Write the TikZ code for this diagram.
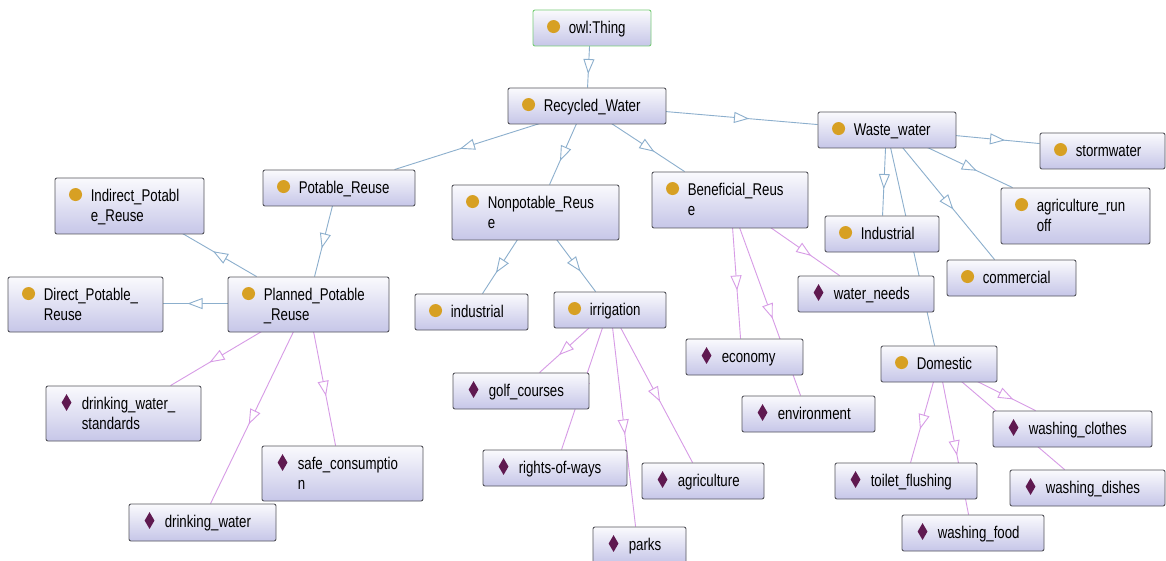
\documentclass[tikz,border=0pt]{standalone}
\usepackage{fontspec}
\setmainfont{Liberation Sans}[FakeStretch=0.78]
\usetikzlibrary{shapes.geometric,arrows.meta,decorations.markings}
\pgfdeclarelayer{bg}
\pgfsetlayers{bg,main}
\definecolor{edgeblue}{RGB}{140,175,205}
\definecolor{edgepink}{RGB}{215,155,230}
\definecolor{icongold}{RGB}{215,160,35}
\definecolor{iconplum}{RGB}{95,25,80}
\definecolor{boxtop}{RGB}{250,250,253}
\definecolor{boxbot}{RGB}{198,198,232}
\definecolor{boxline}{RGB}{85,85,92}
\definecolor{thinggreen}{RGB}{120,205,120}
\tikzset{
  box/.style={draw=boxline, line width=0.9pt, rounded corners=2pt, top color=boxtop, bottom color=boxbot, inner sep=0pt},
  clsicon/.style={circle, fill=icongold, minimum size=13pt, inner sep=0pt},
  indicon/.style={diamond, fill=iconplum, minimum width=10pt, minimum height=17pt, inner sep=0pt},
  lbl/.style={anchor=base west, inner sep=0pt, align=left, font=\fontsize{17}{20}\selectfont},
  blueedge/.style={draw=edgeblue, line width=0.9pt},
  pinkedge/.style={draw=edgepink, line width=0.9pt},
  midtri/.style={postaction={decorate, decoration={markings, mark=at position #1 with {\pgftransformxshift{7.5pt}\arrow{Triangle[length=15pt,width=11pt,fill=white]}}}}},
  midtri/.default=0.5,
}
% #1 box options, #2 name, #3-#6 x1 y1 x2 y2, #7 icon style, #8 baseline of last line, #9 text
\newcommand\obox[9][]{%
  \pgfmathsetmacro\obw{#5-#3}\pgfmathsetmacro\obh{#6-#4}%
  \node[box, minimum width=\obw pt, minimum height=\obh pt, #1] (#2) at ({(#3+#5)/2},{(#4+#6)/2}) {};
  \node[#7] (#2-i) at ([shift={(21,17)}]#2.north west) {};
  \node[lbl] (#2-t) at ([shift={(36,#8)}]#2.north west) {#9};
}
\begin{document}
\begin{tikzpicture}[x=1pt,y=-1pt]
\useasboundingbox (0,0) rectangle (1166,561);
% boxes
\obox[draw=thinggreen]{thing}{533}{10}{651}{46}{clsicon}{24}{owl:Thing}
\obox{rw}{508}{88}{666}{124}{clsicon}{24}{Recycled\_Water}
\obox{pr}{263}{170}{415}{206}{clsicon}{24}{Potable\_Reuse}
\obox{ipr}{55}{178}{204}{234}{clsicon}{44}{Indirect\_Potabl\\e\_Reuse}
\obox{dpr}{8}{277}{163}{332}{clsicon}{44}{Direct\_Potable\_\\Reuse}
\obox{ppr}{228}{277}{389}{332}{clsicon}{44}{Planned\_Potable\\\_Reuse}
\obox{npr}{452}{185}{619}{240}{clsicon}{44}{Nonpotable\_Reus\\e}
\obox{br}{652}{172}{808}{228}{clsicon}{44}{Beneficial\_Reus\\e}
\obox{ind}{415}{294}{528}{330}{clsicon}{24}{industrial}
\obox{irr}{554}{292}{666}{328}{clsicon}{24}{irrigation}
\obox{ww}{818}{112}{956}{148}{clsicon}{24}{Waste\_water}
\obox{sw}{1040}{133}{1165}{169}{clsicon}{24}{stormwater}
\obox{ar}{1001}{188}{1150}{244}{clsicon}{44}{agriculture\_run\\off}
\obox{Ind}{825}{216}{939}{252}{clsicon}{24}{Industrial}
\obox{com}{947}{260}{1076}{296}{clsicon}{24}{commercial}
\obox{wn}{798}{276}{934}{312}{indicon}{24}{water\_needs}
\obox{dom}{881}{346}{997}{382}{clsicon}{24}{Domestic}
\obox{wc}{993}{411}{1152}{447}{indicon}{24}{washing\_clothes}
\obox{tf}{835}{463}{977}{499}{indicon}{24}{toilet\_flushing}
\obox{wd}{1010}{470}{1165}{506}{indicon}{24}{washing\_dishes}
\obox{wf}{902}{515}{1044}{551}{indicon}{24}{washing\_food}
\obox{env}{742}{396}{875}{432}{indicon}{24}{environment}
\obox{eco}{686}{339}{803}{375}{indicon}{24}{economy}
\obox{gc}{453}{373}{589}{409}{indicon}{24}{golf\_courses}
\obox{row}{483}{450}{627}{486}{indicon}{24}{rights-of-ways}
\obox{agr}{642}{463}{764}{499}{indicon}{24}{agriculture}
\obox{parks}{593}{527}{686}{563}{indicon}{24}{parks}
\obox{dws}{46}{386}{201}{441}{indicon}{44}{drinking\_water\_\\standards}
\obox{sc}{262}{446}{423}{501}{indicon}{44}{safe\_consumptio\\n}
\obox{dw}{129}{504}{276}{541}{indicon}{24}{drinking\_water}
% connectors
\begin{pgfonlayer}{bg}
\fill[white] (0,0) rectangle (1166,561);
\draw[blueedge, midtri] ([shift={(57,36)}]thing.north west) -- ([shift={(80,0)}]rw.north west);
\draw[blueedge, midtri] ([shift={(32,36)}]rw.north west) -- ([shift={(132,0)}]pr.north west);
\draw[blueedge, midtri] ([shift={(69,36)}]rw.north west) -- ([shift={(98,0)}]npr.north west);
\draw[blueedge, midtri] ([shift={(104,36)}]rw.north west) -- ([shift={(33,0)}]br.north west);
\draw[blueedge, midtri] ([shift={(158,24)}]rw.north west) -- ([shift={(0,13)}]ww.north west);
\draw[blueedge, midtri] ([shift={(70,36)}]pr.north west) -- ([shift={(87,0)}]ppr.north west);
\draw[blueedge, midtri] ([shift={(29,0)}]ppr.north west) -- ([shift={(128,56)}]ipr.north west);
\draw[blueedge, midtri] ([shift={(0,27)}]ppr.north west) -- ([shift={(155,27)}]dpr.north west);
\draw[blueedge, midtri] ([shift={(66,55)}]npr.north west) -- ([shift={(68,0)}]ind.north west);
\draw[blueedge, midtri] ([shift={(105,55)}]npr.north west) -- ([shift={(42,0)}]irr.north west);
\draw[blueedge, midtri] ([shift={(138,24)}]ww.north west) -- ([shift={(0,11)}]sw.north west);
\draw[blueedge, midtri] ([shift={(110,36)}]ww.north west) -- ([shift={(12,0)}]ar.north west);
\draw[blueedge, midtri] ([shift={(68,36)}]ww.north west) -- ([shift={(58,0)}]Ind.north west);
\draw[blueedge, midtri] ([shift={(85,36)}]ww.north west) -- ([shift={(48,0)}]com.north west);
\draw[blueedge, midtri=0.45] ([shift={(73,36)}]ww.north west) -- ([shift={(54,0)}]dom.north west);
\draw[pinkedge, midtri] ([shift={(34,55)}]ppr.north west) -- ([shift={(125,0)}]dws.north west);
\draw[pinkedge, midtri] ([shift={(66,55)}]ppr.north west) -- ([shift={(82,0)}]dw.north west);
\draw[pinkedge, midtri] ([shift={(86,55)}]ppr.north west) -- ([shift={(74,0)}]sc.north west);
\draw[pinkedge, midtri] ([shift={(36,36)}]irr.north west) -- ([shift={(87,0)}]gc.north west);
\draw[pinkedge, midtri] ([shift={(49,36)}]irr.north west) -- ([shift={(79,0)}]row.north west);
\draw[pinkedge, midtri] ([shift={(59,36)}]irr.north west) -- ([shift={(43,0)}]parks.north west);
\draw[pinkedge, midtri] ([shift={(67,36)}]irr.north west) -- ([shift={(51,0)}]agr.north west);
\draw[pinkedge, midtri] ([shift={(81,56)}]br.north west) -- ([shift={(55,0)}]eco.north west);
\draw[pinkedge, midtri] ([shift={(88,56)}]br.north west) -- ([shift={(59,0)}]env.north west);
\draw[pinkedge, midtri] ([shift={(119,56)}]br.north west) -- ([shift={(42,0)}]wn.north west);
\draw[pinkedge, midtri] ([shift={(53,36)}]dom.north west) -- ([shift={(76,0)}]tf.north west);
\draw[pinkedge, midtri] ([shift={(62,36)}]dom.north west) -- ([shift={(67,0)}]wf.north west);
\draw[pinkedge, midtri] ([shift={(97,36)}]dom.north west) -- ([shift={(43,0)}]wc.north west);
\draw[pinkedge, midtri] ([shift={(81,36)}]dom.north west) -- ([shift={(55,0)}]wd.north west);
\end{pgfonlayer}
\end{tikzpicture}
\end{document}
